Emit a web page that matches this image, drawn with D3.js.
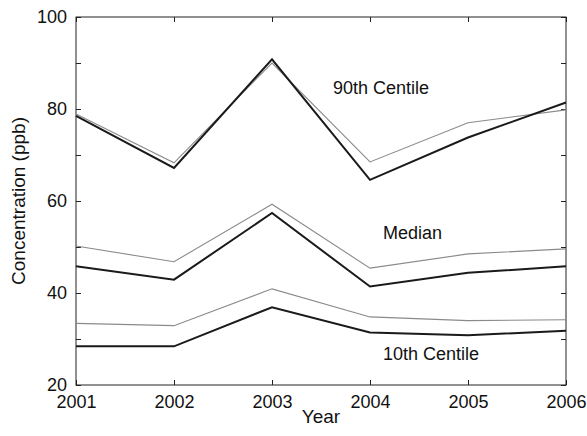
<!DOCTYPE html>
<html>
<head>
<meta charset="utf-8">
<script src="https://cdn.jsdelivr.net/npm/d3@7"></script>
<style>
  body { margin: 0; background: #fff; }
  text { font-family: "Liberation Sans", Arial, sans-serif; fill: #111; }
</style>
</head>
<body>
<main></main>
<script>
const years = [2001, 2002, 2003, 2004, 2005, 2006];
const yTicks = [20, 30, 40, 50, 60, 70, 80, 90, 100];
const yLabels = [20, 40, 60, 80, 100];

// black = thick line, grey = thin line
const p90Black = [78.5, 67.2, 90.8, 64.6, 73.8, 81.4];
const p90Grey = [78.9, 68.3, 90.0, 68.5, 77.0, 79.8];
const medGrey = [50.2, 46.8, 59.3, 45.4, 48.5, 49.6];
const medBlack = [45.8, 42.9, 57.4, 41.4, 44.4, 45.8];
const p10Grey = [33.4, 32.9, 40.9, 34.8, 34.0, 34.2];
const p10Black = [28.4, 28.4, 36.9, 31.4, 30.8, 31.8];

const width = 587;
const height = 436;
const margin = { top: 17, right: 21, bottom: 51, left: 76 };

const svg = d3.select("main").append("svg").attr("width", width).attr("height", height);

const xScale = d3.scaleLinear().domain([2001, 2006]).range([margin.left, width - margin.right]);
const yScale = d3.scaleLinear().domain([20, 100]).range([height - margin.bottom, margin.top]);

const tickLen = 5;

// axes, ticks pointing inward
svg
  .append("g")
  .attr("transform", `translate(0, ${height - margin.bottom})`)
  .call(d3.axisBottom(xScale).tickValues(years).tickFormat(d3.format("d")).tickSizeInner(-tickLen).tickSizeOuter(0).tickPadding(10))
  .call((g) => g.selectAll("text").style("font-size", "18px"));

svg
  .append("g")
  .attr("transform", `translate(0, ${margin.top})`)
  .call(d3.axisTop(xScale).tickValues(years).tickFormat("").tickSizeInner(-tickLen).tickSizeOuter(0));

svg
  .append("g")
  .attr("transform", `translate(${margin.left}, 0)`)
  .call(
    d3
      .axisLeft(yScale)
      .tickValues(yTicks)
      .tickFormat((d) => (yLabels.includes(d) ? d : ""))
      .tickSizeInner(-tickLen)
      .tickSizeOuter(0)
      .tickPadding(9)
  )
  .call((g) => g.selectAll("text").style("font-size", "18px"));

svg
  .append("g")
  .attr("transform", `translate(${width - margin.right}, 0)`)
  .call(d3.axisRight(yScale).tickValues(yTicks).tickFormat("").tickSizeInner(-tickLen).tickSizeOuter(0));

svg.selectAll(".domain").remove();
svg.selectAll(".tick line").attr("stroke", "#222");

// frame
svg
  .append("rect")
  .attr("x", margin.left)
  .attr("y", margin.top)
  .attr("width", width - margin.left - margin.right)
  .attr("height", height - margin.top - margin.bottom)
  .attr("fill", "none")
  .attr("stroke", "#222")
  .attr("stroke-width", 1);

const line = d3
  .line()
  .x((d, i) => xScale(years[i]))
  .y((d) => yScale(d));

const series = [
  { values: p90Grey, color: "#8a8a8a", w: 1.1 },
  { values: medGrey, color: "#8a8a8a", w: 1.1 },
  { values: p10Grey, color: "#8a8a8a", w: 1.1 },
  { values: p90Black, color: "#1a1a1a", w: 2 },
  { values: medBlack, color: "#1a1a1a", w: 2 },
  { values: p10Black, color: "#1a1a1a", w: 2 },
];

svg
  .selectAll("path.series")
  .data(series)
  .enter()
  .append("path")
  .attr("class", "series")
  .attr("d", (s) => line(s.values))
  .attr("fill", "none")
  .attr("stroke", (s) => s.color)
  .attr("stroke-width", (s) => s.w)
  .attr("stroke-linejoin", "miter");

// annotations
svg.append("text").attr("x", 333).attr("y", 94).text("90th Centile").style("font-size", "18px");
svg.append("text").attr("x", 383).attr("y", 239).text("Median").style("font-size", "18px");
svg.append("text").attr("x", 383).attr("y", 360).text("10th Centile").style("font-size", "18px");

// axis titles
svg
  .append("text")
  .attr("x", (margin.left + width - margin.right) / 2)
  .attr("y", 423)
  .attr("text-anchor", "middle")
  .text("Year")
  .style("font-size", "19px");

svg
  .append("text")
  .attr("transform", `translate(25, ${(margin.top + height - margin.bottom) / 2}) rotate(-90)`)
  .attr("text-anchor", "middle")
  .text("Concentration (ppb)")
  .style("font-size", "19px");
</script>
</body>
</html>
